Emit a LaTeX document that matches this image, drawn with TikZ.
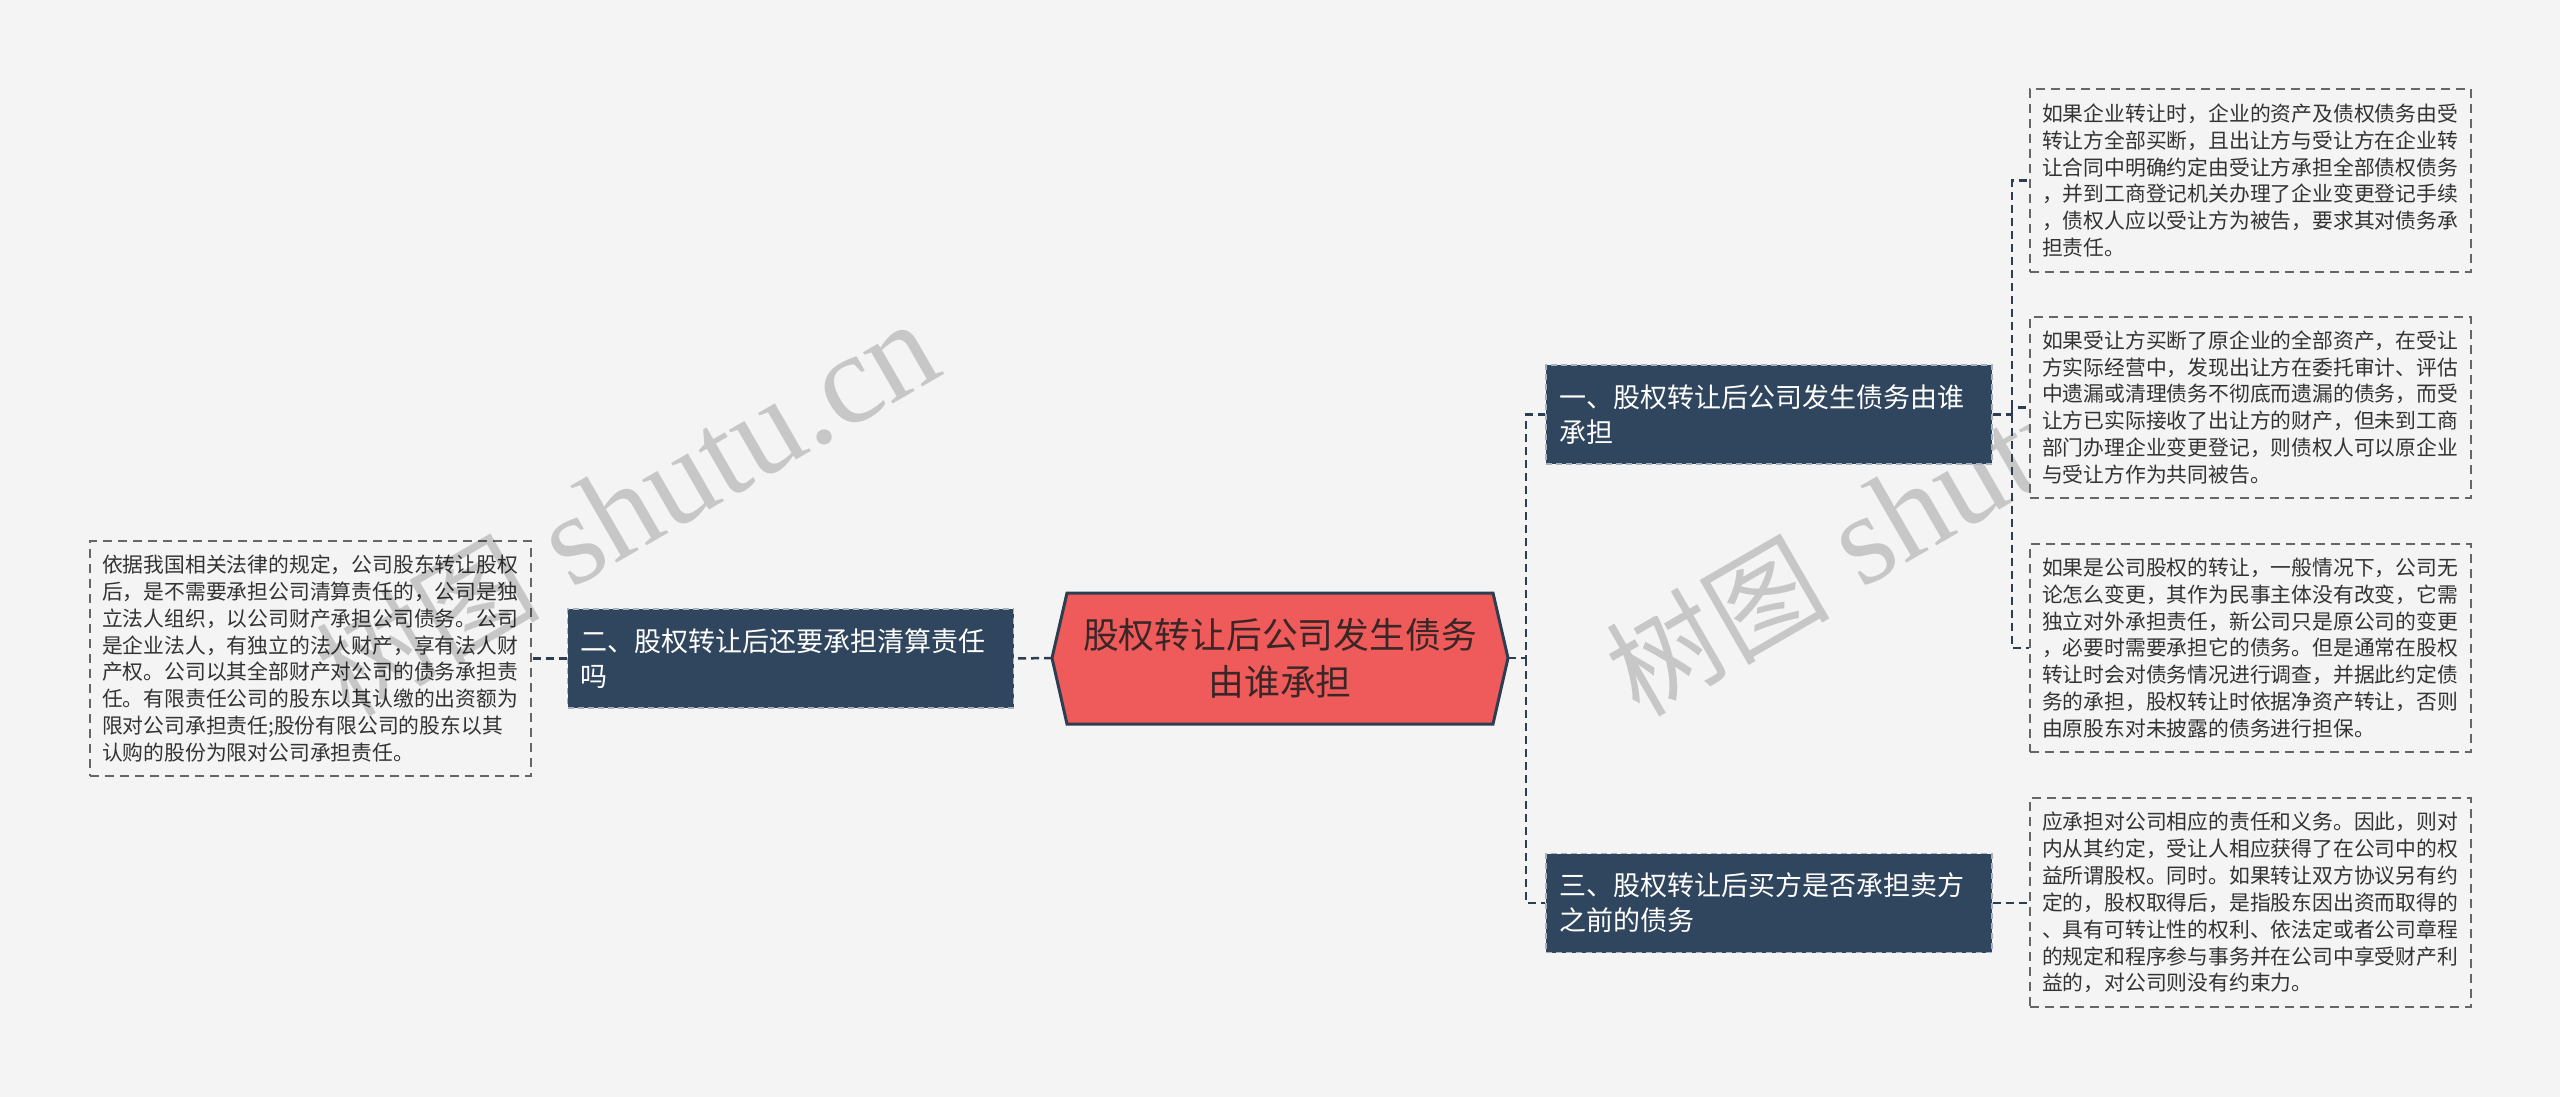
\documentclass[tikz,border=0pt]{standalone}
\usepackage{fontspec}
\setmainfont{Noto Sans CJK SC}
\newfontfamily\wmserif{Liberation Serif}
\definecolor{bgc}{HTML}{F4F4F5}
\definecolor{navy}{HTML}{30465E}
\definecolor{lineclr}{HTML}{2D3E50}
\definecolor{rootred}{HTML}{EF5A5A}
\definecolor{roottext}{HTML}{3A2626}
\definecolor{leafborder}{HTML}{666666}
\definecolor{branchborder}{HTML}{A8B2BC}
\definecolor{leaftext}{HTML}{333333}
\tikzset{
  leafbox/.style={draw=leafborder, line width=1.8pt, dash pattern=on 9pt off 6pt,
    fill=bgc, text=leaftext, align=left, minimum width=441pt, text width=417pt,
    inner xsep=12pt, font=\fontsize{20.8}{26.9}\selectfont},
  branchbox/.style={draw=branchborder, line width=1.3pt, dash pattern=on 6pt off 4pt,
    fill=navy, text=white, align=left, minimum width=446pt, minimum height=99pt,
    text width=420pt, inner xsep=13pt, font=\fontsize{27}{35}\selectfont},
  conn/.style={draw=lineclr, line width=2.5pt, dash pattern=on 8pt off 5pt},
  wmark/.style={text=black, opacity=0.18, rotate=30, anchor=base east, inner sep=0pt}
}
\newcommand{\wmtext}{{\fontsize{112}{112}\selectfont 树图}{\wmserif\fontsize{129}{129}\selectfont\ shutu.cn}}
\begin{document}
\begin{tikzpicture}[x=1pt,y=-1pt]
\useasboundingbox (0,0) rectangle (2560,1097);
\fill[bgc] (0,0) rectangle (2560,1097);

% right watermark (lies under the boxes)
\node[wmark] (wm2) at (2237,373) {\wmtext};

% root hexagon
\coordinate (rootL) at (1052,658);
\coordinate (rootR) at (1508,658);
\filldraw[fill=rootred, draw=lineclr, line width=3pt, line join=miter]
  (rootL) -- (1067,593) -- (1493,593) -- (rootR) -- (1493,724) -- (1067,724) -- cycle;
\node[text=roottext, align=center, font=\fontsize{35.8}{47}\selectfont] (root) at (1280,658)
  {股权转让后公司发生债务\\由谁承担};

% branches
\node[branchbox] (b2) at (790.5,658.5) {二、股权转让后还要承担清算责任\\吗};
\node[branchbox] (b1) at (1769,414.5) {一、股权转让后公司发生债务由谁\\承担};
\node[branchbox] (b3) at (1769,903) {三、股权转让后买方是否承担卖方\\之前的债务};

% leaves
\node[leafbox, minimum height=235pt] (l0) at (310.5,658.5)
 {依据我国相关法律的规定，公司股东转让股权\\后，是不需要承担公司清算责任的，公司是独\\立法人组织，以公司财产承担公司债务。公司\\是企业法人，有独立的法人财产，享有法人财\\产权。公司以其全部财产对公司的债务承担责\\任。有限责任公司的股东以其认缴的出资额为\\限对公司承担责任;股份有限公司的股东以其\\认购的股份为限对公司承担责任。};
\node[leafbox, minimum height=183pt] (l1) at (2250.5,180.5)
 {如果企业转让时，企业的资产及债权债务由受\\转让方全部买断，且出让方与受让方在企业转\\让合同中明确约定由受让方承担全部债权债务\\，并到工商登记机关办理了企业变更登记手续\\，债权人应以受让方为被告，要求其对债务承\\担责任。};
\node[leafbox, minimum height=181pt] (l2) at (2250.5,407.5)
 {如果受让方买断了原企业的全部资产，在受让\\方实际经营中，发现出让方在委托审计、评估\\中遗漏或清理债务不彻底而遗漏的债务，而受\\让方已实际接收了出让方的财产，但未到工商\\部门办理企业变更登记，则债权人可以原企业\\与受让方作为共同被告。};
\node[leafbox, minimum height=208pt] (l3) at (2250.5,648)
 {如果是公司股权的转让，一般情况下，公司无\\论怎么变更，其作为民事主体没有改变，它需\\独立对外承担责任，新公司只是原公司的变更\\，必要时需要承担它的债务。但是通常在股权\\转让时会对债务情况进行调查，并据此约定债\\务的承担，股权转让时依据净资产转让，否则\\由原股东对未披露的债务进行担保。};
\node[leafbox, minimum height=209pt] (l4) at (2250.5,902.5)
 {应承担对公司相应的责任和义务。因此，则对\\内从其约定，受让人相应获得了在公司中的权\\益所谓股权。同时。如果转让双方协议另有约\\定的，股权取得后，是指股东因出资而取得的\\、具有可转让性的权利、依法定或者公司章程\\的规定和程序参与事务并在公司中享受财产利\\益的，对公司则没有约束力。};

% connectors
\coordinate (busA) at (1526,0);
\coordinate (busB) at (2012,0);
\draw[conn] (rootL) -- (b2.east);
\draw[conn] (b2.west) -- (l0.east |- b2.west);
\draw[conn] (rootR) -- (rootR -| busA) |- (b1.west);
\draw[conn] (rootR -| busA) |- (b3.west);
\draw[conn] (b1.east) -- (b1.east -| busB) |- (l1.west);
\draw[conn] (b1.east -| busB) |- (l2.west);
\draw[conn] (b1.east -| busB) |- (l3.west);
\draw[conn] (b3.east) -- (l4.west |- b3.east);

% left watermark (shows over the left leaf)
\node[wmark] (wm1) at (947,373) {\wmtext};
\end{tikzpicture}
\end{document}
